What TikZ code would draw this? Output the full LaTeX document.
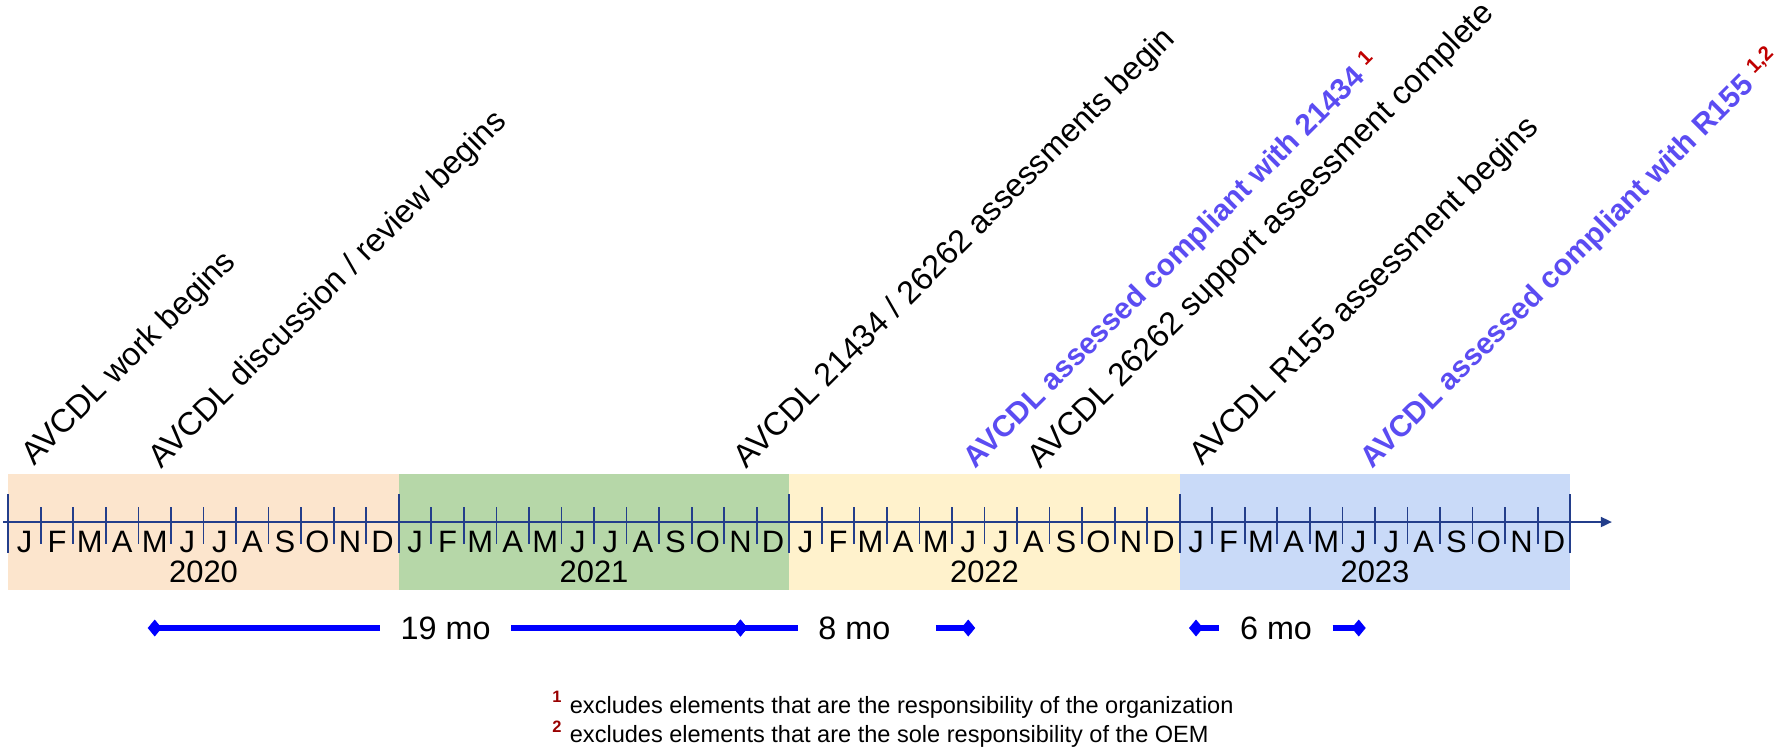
\documentclass[tikz,border=0pt]{standalone}
\usepackage{fontspec}
\setmainfont{Liberation Sans}
\definecolor{avcdlPeach}{HTML}{FCE5CD}
\definecolor{avcdlGreen}{HTML}{B6D7A8}
\definecolor{avcdlCream}{HTML}{FFF2CC}
\definecolor{avcdlSky}{HTML}{C9DAF8}
\definecolor{avcdlNavy}{HTML}{233E8B}
\definecolor{avcdlViolet}{HTML}{5B4CF2}
\definecolor{avcdlRed}{HTML}{C00000}
\definecolor{avcdlDarkRed}{HTML}{990000}
\usetikzlibrary{
	arrows.meta,
	positioning
}
\newcommand{\notemark}[1]{\raisebox{0.32em}{\fontsize{5.8}{6}\selectfont\color{avcdlRed}#1}}

\begin{document}
\begin{tikzpicture}[x=3.254mm, y=1cm,
		monthlbl/.style={anchor=base, inner sep=0pt, font=\fontsize{8.8}{10}\selectfont},
		yearlbl/.style={anchor=base, inner sep=0pt, font=\fontsize{8.8}{10}\selectfont},
		eventlbl/.style={rotate=45, anchor=base west, inner sep=0pt, font=\fontsize{9.2}{11}\selectfont},
		milestonelbl/.style={eventlbl, font=\fontsize{8.5}{11}\selectfont\bfseries, text=avcdlViolet},
		durlbl/.style={inner xsep=2mm, inner ysep=1mm, font=\fontsize{9.2}{11}\selectfont},
		durbar/.style={line width=1.5pt, blue},
		diam/.tip={Diamond[length=1.4mm, width=1.7mm]}
	]
	
	\useasboundingbox (-0.255,-2.30) rectangle (54.57,5.22);
	
	% Bandas de cada anio
	\foreach \k/\col/\yr in {0/avcdlPeach/2020,1/avcdlGreen/2021,2/avcdlCream/2022,3/avcdlSky/2023}{
		\fill[\col] (12*\k,-0.68) rectangle ++(12,1.16);
		\node[yearlbl] (yr\yr) at (12*\k+6,-0.60) {\yr};
	}
	
	% Eje del tiempo
	\coordinate (axstart) at (-0.15,0);
	\coordinate (axend) at (49.28,0);
	\draw[avcdlNavy, line width=0.5pt, -{Triangle[length=1.1mm, width=1mm]}] (axstart) -- (axend);
	\foreach \m in {1,...,47}{
		\draw[avcdlNavy, line width=0.5pt] (\m,0.15) -- (\m,-0.22);
	}
	\foreach \m in {0,12,...,48}{
		\draw[avcdlNavy, line width=0.5pt] (\m,0.28) -- (\m,-0.31);
	}
	
	% Meses
	\foreach \k in {0,...,3}{
		\foreach \lab [count=\i from 0] in {J,F,M,A,M,J,J,A,S,O,N,D}{
			\node[monthlbl] (mo\k-\i) at (12*\k+\i+0.5,-0.30) {\lab};
		}
	}
	
	% Hitos
	\node[eventlbl] (ev1) at (0.78,0.55) {AVCDL work begins};
	\node[eventlbl] (ev2) at (4.68,0.52) {AVCDL discussion / review begins};
	\node[eventlbl] (ev3) at (22.68,0.52) {AVCDL 21434 / 26262 assessments begin};
	\node[milestonelbl] (ev4) at (29.72,0.52) {AVCDL assessed compliant with 21434 \notemark{1}};
	\node[eventlbl] (ev5) at (31.7,0.52) {AVCDL 26262 support assessment complete};
	\node[eventlbl] (ev6) at (36.68,0.55) {AVCDL R155 assessment begins};
	\node[milestonelbl] (ev7) at (41.92,0.52) {AVCDL assessed compliant with R155 \notemark{1,2}};
	
	% Duraciones
	\coordinate (d19s) at (4.5,-1.06);
	\coordinate (d19e) at (22.5,-1.06);
	\coordinate (d8e) at (29.5,-1.06);
	\coordinate (d6s) at (36.5,-1.06);
	\coordinate (d6e) at (41.5,-1.06);
	\node[durlbl] (dur19) at (13.44,-1.06) {19 mo};
	\node[durlbl] (dur8) at (26.0,-1.06) {8 mo};
	\node[durlbl] (dur6) at (38.96,-1.06) {6 mo};
	
	\draw[durbar, {diam}-, shorten <=-0.7mm] (d19s) -- (dur19);
	\draw[durbar, -{diam}, shorten >=-0.7mm] (dur19) -- (d19e);
	\draw[durbar, {diam}-, shorten <=-0.7mm] (d19e) -- (dur8);
	\draw[durbar, -{diam}, shorten >=-0.7mm, shorten <=2.5mm] (dur8) -- (d8e);
	\draw[durbar, {diam}-, shorten <=-0.7mm] (d6s) -- (dur6);
	\draw[durbar, -{diam}, shorten >=-0.7mm] (dur6) -- (d6e);
	
	% Notas
	\node[anchor=west, align=left, inner sep=0pt, font=\fontsize{6.7}{8.3}\selectfont] (notes) at (16.7,-1.975)
		{\textsuperscript{\bfseries\color{avcdlDarkRed}1} excludes elements that are the responsibility of the organization\\
		 \textsuperscript{\bfseries\color{avcdlDarkRed}2} excludes elements that are the sole responsibility of the OEM};
	
\end{tikzpicture}
\end{document}
